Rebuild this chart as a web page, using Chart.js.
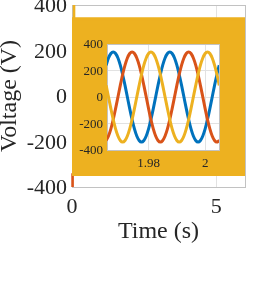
<!DOCTYPE html>
<html><head><meta charset="utf-8">
<script src="https://cdn.jsdelivr.net/npm/chart.js@4/dist/chart.umd.min.js"></script>
<style>
html,body{margin:0;padding:0;background:#fff;overflow:hidden}
#wrap{position:relative;width:269px;height:292px}
canvas{position:absolute;left:0;top:0}
</style></head><body>
<div id="wrap"><canvas id="main" width="269" height="292"></canvas><canvas id="inset" width="269" height="292"></canvas></div>
<script>
// ---- main axes data (dense 50 Hz waveform reads as a solid band) ----
const mainXTicks = [0, 5];
const mainYTicks = [-400, -200, 0, 200, 400];
const bandTime = [0, 6];
const bandUpper = [340, 340];
const bandLower = [-345, -345];
const redStartTime = [0.02, 0.02];
const redStart = [-340, -400];
const yellowStartTime = [0.07, 0.07];
const yellowStart = [340, 400];

// ---- inset (zoom 1.965 .. 2.005 s) ----
const insetXTicks = [1.98, 2];
const insetYTicks = [-400, -200, 0, 200, 400];
const insetTime = [1.965,1.96583,1.96667,1.9675,1.96833,1.96917,1.97,1.97083,1.97167,1.9725,1.97333,1.97417,1.975,1.97583,1.97667,1.9775,1.97833,1.97917,1.98,1.98083,1.98167,1.9825,1.98333,1.98417,1.985,1.98583,1.98667,1.9875,1.98833,1.98917,1.99,1.99083,1.99167,1.9925,1.99333,1.99417,1.995,1.99583,1.99667,1.9975,1.99833,1.99917,2,2.00083,2.00167,2.0025,2.00333,2.00417,2.005];
const phaseA = [240,294,328,340,328,294,240,170,88,0,-88,-170,-240,-294,-328,-340,-328,-294,-240,-170,-88,0,88,170,240,294,328,340,328,294,240,170,88,0,-88,-170,-240,-294,-328,-340,-328,-294,-240,-170,-88,0,88,170,240];
const phaseB = [-328,-294,-240,-170,-88,0,88,170,240,294,328,340,328,294,240,170,88,0,-88,-170,-240,-294,-328,-340,-328,-294,-240,-170,-88,0,88,170,240,294,328,340,328,294,240,170,88,0,-88,-170,-240,-294,-328,-340,-328];
const phaseC = [88,0,-88,-170,-240,-294,-328,-340,-328,-294,-240,-170,-88,0,88,170,240,294,328,340,328,294,240,170,88,0,-88,-170,-240,-294,-328,-340,-328,-294,-240,-170,-88,0,88,170,240,294,328,340,328,294,240,170,88];

const FONT = '"Liberation Serif","Times New Roman",serif';
const TXT = '#262626', GRID = '#e2e2e2', BOX = '#c2c2c2';
const BLUE = '#0072BD', RED = '#D95319', YEL = '#EDB120';
const pts = (xs, ys) => xs.map((x, i) => ({x, y: ys[i]}));
const fixSize = (w, h) => s => {
  if (w != null) s.width = w;
  if (h != null) s.height = h;
  s.paddingTop = 0; s.paddingBottom = 0; s.paddingLeft = 0; s.paddingRight = 0;
};
const setTicks = arr => s => { s.ticks = arr.map(v => ({value: v})); };
const fmt = v => String(+(+v).toFixed(4));

const areaBg = {id: 'areaBg', beforeDraw(c) {
  const a = c.chartArea, ctx = c.ctx;
  ctx.save(); ctx.fillStyle = '#fff';
  ctx.fillRect(a.left, a.top, a.right - a.left, a.bottom - a.top);
  ctx.restore();
}};

Chart.defaults.font.family = FONT;
Chart.defaults.color = TXT;

new Chart(document.getElementById('main'), {
  type: 'line',
  data: {datasets: [
    {data: pts(yellowStartTime, yellowStart), borderColor: YEL, borderWidth: 2.6, pointRadius: 0, order: 0, clip: {left: 0, top: 0, right: 0, bottom: 0}},
    {data: pts(bandTime, bandUpper), borderColor: YEL, backgroundColor: YEL, borderWidth: 3, pointRadius: 0, fill: '+1', order: 1, clip: {left: 0, top: 0, right: 2, bottom: 0}},
    {data: pts(bandTime, bandLower), borderColor: YEL, borderWidth: 3, pointRadius: 0, fill: false, order: 2, clip: {left: 0, top: 0, right: 2, bottom: 0}},
    {data: pts(redStartTime, redStart), borderColor: RED, borderWidth: 2.6, pointRadius: 0, order: 3, clip: {left: 2, top: 0, right: 0, bottom: 0}}
  ]},
  options: {
    responsive: false, animation: false, devicePixelRatio: 1,
    layout: {padding: {left: 0, top: 5, right: 24, bottom: 0}},
    plugins: {legend: {display: false}, tooltip: {enabled: false}},
    scales: {
      x: {type: 'linear', min: 0, max: 6, position: 'bottom',
        afterFit: fixSize(null, 105), afterBuildTicks: setTicks(mainXTicks),
        grid: {color: GRID, drawTicks: false}, border: {color: BOX},
        ticks: {font: {size: 22, family: FONT}, color: TXT, padding: 7, maxRotation: 0, callback: fmt},
        title: {display: true, text: 'Time (s)', font: {size: 24, family: FONT}, color: TXT, padding: {top: 0, bottom: 46}}},
      y: {type: 'linear', min: -400, max: 400, position: 'left',
        afterFit: fixSize(72, null), afterBuildTicks: setTicks(mainYTicks),
        grid: {color: GRID, drawTicks: false}, border: {color: BOX},
        ticks: {font: {size: 22, family: FONT}, color: TXT, padding: 5, labelOffset: 1.5, callback: fmt},
        title: {display: true, text: 'Voltage (V)', font: {size: 24, family: FONT, lineHeight: 0.8}, color: TXT, padding: {top: 0, bottom: 0}}},
      x2: {type: 'linear', position: 'top', min: 0, max: 6, afterFit: fixSize(null, 0),
        grid: {display: false, drawTicks: false}, ticks: {display: false}, border: {display: true, color: BOX}},
      y2: {type: 'linear', position: 'right', min: -400, max: 400, afterFit: fixSize(0, null),
        grid: {display: false, drawTicks: false}, ticks: {display: false}, border: {display: true, color: BOX}}
    }
  }
});

new Chart(document.getElementById('inset'), {
  type: 'line',
  data: {labels: insetTime, datasets: [
    {data: pts(insetTime, phaseA), borderColor: BLUE, borderWidth: 3, pointRadius: 0, cubicInterpolationMode: 'monotone', order: 3},
    {data: pts(insetTime, phaseB), borderColor: RED, borderWidth: 3, pointRadius: 0, cubicInterpolationMode: 'monotone', order: 2},
    {data: pts(insetTime, phaseC), borderColor: YEL, borderWidth: 3, pointRadius: 0, cubicInterpolationMode: 'monotone', order: 1}
  ]},
  plugins: [areaBg],
  options: {
    responsive: false, animation: false, devicePixelRatio: 1,
    layout: {padding: {left: 0, top: 44, right: 50, bottom: 0}},
    plugins: {legend: {display: false}, tooltip: {enabled: false}},
    scales: {
      x: {type: 'linear', min: 1.9653, max: 2.0049, position: 'bottom',
        afterFit: fixSize(null, 142), afterBuildTicks: setTicks(insetXTicks),
        grid: {color: GRID, drawTicks: false}, border: {color: BOX},
        ticks: {font: {size: 13, family: FONT}, color: TXT, padding: 6, maxRotation: 0, callback: fmt}},
      y: {type: 'linear', min: -400, max: 400, position: 'left',
        afterFit: fixSize(107, null), afterBuildTicks: setTicks(insetYTicks),
        grid: {color: GRID, drawTicks: false}, border: {color: BOX},
        ticks: {font: {size: 13, family: FONT}, color: TXT, padding: 4, labelOffset: 1, callback: fmt}},
      x2: {type: 'linear', position: 'top', min: 0, max: 1, afterFit: fixSize(null, 0),
        grid: {display: false, drawTicks: false}, ticks: {display: false}, border: {display: true, color: BOX}},
      y2: {type: 'linear', position: 'right', min: 0, max: 1, afterFit: fixSize(0, null),
        grid: {display: false, drawTicks: false}, ticks: {display: false}, border: {display: true, color: BOX}}
    }
  }
});
</script>
</body></html>
